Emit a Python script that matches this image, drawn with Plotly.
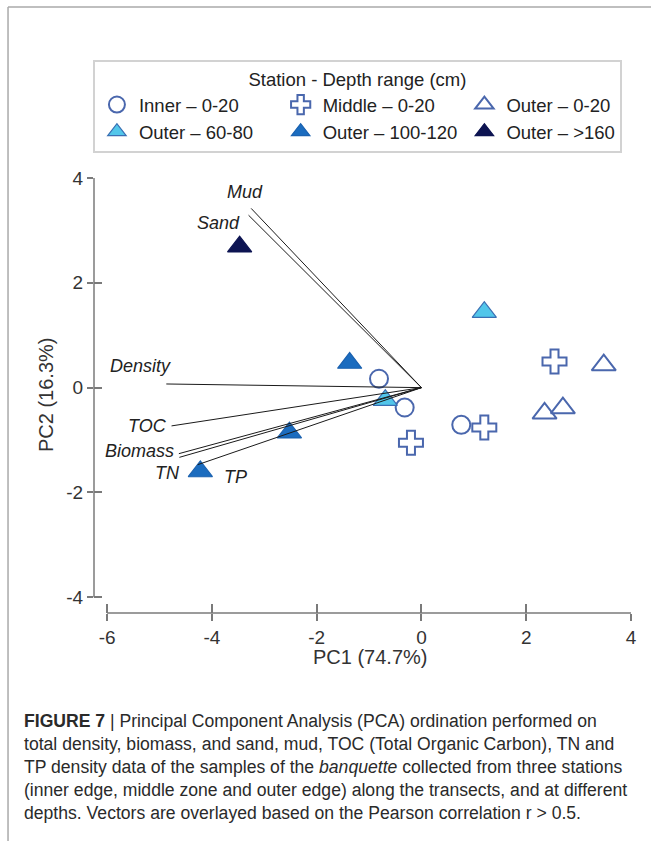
import plotly.graph_objects as go

# PCA scores per station / depth group
inner_x = [-0.81, -0.32, 0.76]
inner_y = [0.17, -0.38, -0.71]
middle_x = [-0.20, 1.20, 2.54]
middle_y = [-1.05, -0.76, 0.50]
outer0_x = [2.35, 2.70, 3.48]
outer0_y = [-0.49, -0.39, 0.43]
outer60_x = [-0.69, 1.20]
outer60_y = [-0.24, 1.44]
outer100_x = [-1.37, -2.52, -4.22]
outer100_y = [0.47, -0.86, -1.60]
outer160_x = [-3.47]
outer160_y = [2.69]

# Variable vectors (Pearson r > 0.5) and their label positions
vec_names = ["Mud", "Sand", "Density", "TOC", "Biomass", "TN", "TP"]
vec_x = [-3.25, -3.30, -4.87, -4.77, -4.63, -4.62, -4.27]
vec_y = [3.42, 3.29, 0.07, -0.73, -1.26, -1.33, -1.47]
lab_x = [-3.36, -3.88, -5.36, -5.22, -5.38, -4.85, -3.55]
lab_y = [3.74, 3.15, 0.42, -0.73, -1.20, -1.62, -1.70]

x_ticks = [-6, -4, -2, 0, 2, 4]
x_tick_text = ["-6", "-4", "-2", "0", "2", "4"]
y_ticks = [-4, -2, 0, 2, 4]
y_tick_text = ["-4", "-2", "0", "2", "4"]

FONT = "Arial, Liberation Sans, sans-serif"
OUTLINE = "#4a67ad"

groups = [
    ("Inner – 0-20", inner_x, inner_y, "circle-open", 18, OUTLINE, OUTLINE),
    ("Middle – 0-20", middle_x, middle_y, "cross-open", 20, OUTLINE, OUTLINE),
    ("Outer – 0-20", outer0_x, outer0_y, "triangle-up-open", 21, OUTLINE, OUTLINE),
    ("Outer – 60-80", outer60_x, outer60_y, "triangle-up", 21, "#52c6ea", "#3a6fb3"),
    ("Outer – 100-120", outer100_x, outer100_y, "triangle-up", 21, "#1b6cbf", "#1b62b0"),
    ("Outer – &gt;160", outer160_x, outer160_y, "triangle-up", 21, "#0d1452", "#0d1452"),
]

fig = go.Figure()
for name, xs, ys, sym, size, fill, line in groups:
    fig.add_trace(go.Scatter(
        x=xs, y=ys, mode="markers", name=name,
        marker=dict(symbol=sym, size=size, color=fill,
                    line=dict(color=line, width=2 if "open" in sym else 1.2)),
    ))

for vx, vy in zip(vec_x, vec_y):
    fig.add_trace(go.Scatter(
        x=[0, vx], y=[0, vy], mode="lines", showlegend=False,
        line=dict(color="#1a1a1a", width=1), hoverinfo="skip",
    ))

for name, lx, ly in zip(vec_names, lab_x, lab_y):
    fig.add_annotation(x=lx, y=ly, text=f"<i>{name}</i>", showarrow=False,
                       font=dict(family=FONT, size=18, color="#222"))

# helper trace for the inner half of the crossing ticks
fig.add_trace(go.Scatter(x=[], y=[], xaxis="x2", yaxis="y2", showlegend=False))

X_RANGE = [-6.25, 4.0]
Y_RANGE = [-4.3, 4.0]
AX_GREY = "#7a7a7a"

fig.update_layout(
    width=651, height=841,
    margin=dict(l=94, r=20, t=178, b=228),
    paper_bgcolor="white", plot_bgcolor="white",
    font=dict(family=FONT, size=18, color="#333"),
    xaxis=dict(range=X_RANGE, tickvals=x_ticks, ticktext=x_tick_text,
               ticks="outside", ticklen=7, tickwidth=1.5, tickcolor=AX_GREY,
               showgrid=False, zeroline=False, showline=False,
               tickfont=dict(size=19, color="#333")),
    yaxis=dict(range=Y_RANGE, tickvals=y_ticks, ticktext=y_tick_text,
               ticks="outside", ticklen=6, tickwidth=1.5, tickcolor=AX_GREY,
               showgrid=False, zeroline=False, showline=False,
               tickfont=dict(size=19, color="#333")),
    xaxis2=dict(range=X_RANGE, tickvals=x_ticks, ticks="inside", ticklen=9,
                tickwidth=1.5, tickcolor=AX_GREY, overlaying="x", anchor="y2",
                side="bottom", showticklabels=False, showgrid=False,
                zeroline=False, showline=False),
    yaxis2=dict(range=Y_RANGE, tickvals=y_ticks, ticks="inside", ticklen=8,
                tickwidth=1.5, tickcolor=AX_GREY, overlaying="y", anchor="x2",
                side="left", showticklabels=False, showgrid=False,
                zeroline=False, showline=False),
    legend=dict(
        orientation="h", x=-0.002, xanchor="left", y=1.2713, yanchor="top",
        bgcolor="white", bordercolor="#d2d2d2", borderwidth=2, itemwidth=34,
        font=dict(family=FONT, size=18.5, color="#222"),
        title=dict(text="Station - Depth range (cm)", side="top center",
                   font=dict(family=FONT, size=18.5, color="#222")),
    ),
    showlegend=True,
)

# offset axis spines spanning only the labelled range
fig.add_shape(type="line", xref="x", yref="paper", x0=x_ticks[0], x1=x_ticks[-1],
              y0=0, y1=0, line=dict(color=AX_GREY, width=1.5))
fig.add_shape(type="line", xref="paper", yref="y", x0=0, x1=0,
              y0=y_ticks[0], y1=y_ticks[-1], line=dict(color=AX_GREY, width=1.5))

# axis titles
fig.add_annotation(xref="paper", yref="paper", x=0.5158, y=-0.1011,
                   text="PC1 (74.7%)", showarrow=False, yanchor="middle",
                   font=dict(family=FONT, size=20, color="#333"))
fig.add_annotation(xref="paper", yref="paper", x=-0.1136, y=0.5034,
                   text="PC2 (16.3%)", showarrow=False, textangle=-90,
                   font=dict(family=FONT, size=20, color="#333"))

# figure frame (top and left rules)
fig.add_shape(type="line", xref="paper", yref="paper", x0=-0.1601, x1=1.04,
              y0=1.3931, y1=1.3931, line=dict(color="#aaaaaa", width=1.5))
fig.add_shape(type="line", xref="paper", yref="paper", x0=-0.1601, x1=-0.1601,
              y0=1.3931, y1=-0.53, line=dict(color="#aaaaaa", width=1.5))

caption = (
    "<b>FIGURE 7</b> | Principal Component Analysis (PCA) ordination performed on<br>"
    "total density, biomass, and sand, mud, TOC (Total Organic Carbon), TN and<br>"
    "TP density data of the samples of the <i>banquette</i> collected from three stations<br>"
    "(inner edge, middle zone and outer edge) along the transects, and at different<br>"
    "depths. Vectors are overlayed based on the Pearson correlation r &gt; 0.5."
)
fig.add_annotation(xref="paper", yref="paper", x=-0.134, y=-0.2207,
                   xanchor="left", yanchor="top", align="left", showarrow=False,
                   text=caption, font=dict(family=FONT, size=17.6, color="#2a2a2a"))

fig.write_html("out.html")
